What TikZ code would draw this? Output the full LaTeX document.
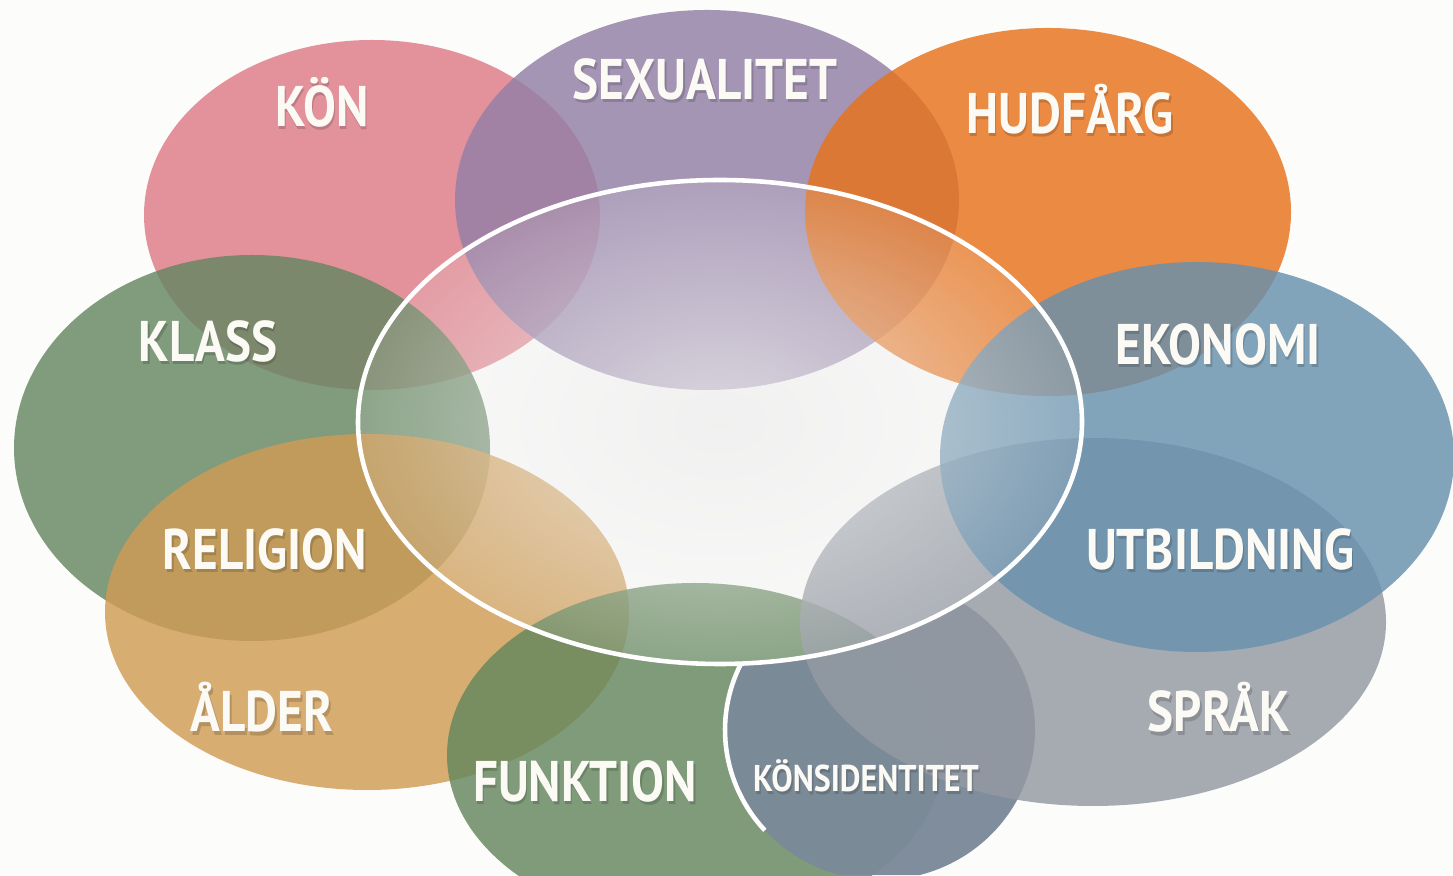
\documentclass[tikz,border=0pt]{standalone}
\usepackage{fontspec}
\setmainfont{PT Sans}
\newfontfamily\tagfont[FakeStretch=0.86]{PT Sans}
\usetikzlibrary{positioning,shapes,fadings}
\newcommand*{\tagsize}{\tagfont\bfseries\fontsize{16.3}{18}\selectfont}
\newcommand*{\smalltagsize}{\tagfont\bfseries\fontsize{10.6}{12}\selectfont}
\definecolor{paper}{HTML}{FCFCFB}
\definecolor{tagwhite}{HTML}{FCFAF5}
\definecolor{konpink}{HTML}{DE7B87}
\definecolor{sexpurple}{HTML}{937FA6}
\definecolor{hudorange}{HTML}{E8721A}
\definecolor{ekoblue}{HTML}{6891AE}
\definecolor{klassgreen}{HTML}{668662}
\definecolor{aldertan}{HTML}{D09C55}
\definecolor{sprakgray}{HTML}{949AA2}
\definecolor{funkgreen}{HTML}{64865D}
\definecolor{konsidslate}{HTML}{7B8A99}
\tikzfading[name=hazefade, inner color=transparent!25, outer color=transparent!88]

\begin{document}
\begin{tikzpicture}
	\tikzstyle{blob}=[ellipse, inner sep=0pt, outer sep=0pt, fill opacity=0.82]
	\tikzstyle{tag}=[anchor=base, text=tagwhite, font=\tagsize]
	\tikzstyle{tagshadow}=[anchor=base, text=black, text opacity=0.16, font=\tagsize, xshift=0.15mm, yshift=-0.3mm]
	\tikzstyle{rim}=[draw=white, line width=1.3pt]
	\useasboundingbox[fill=paper] (0,0) rectangle (14.53,8.75);
	\coordinate (Mid) at (7.20,4.53);

	\node (Kon) [blob, fill=konpink, minimum width=4.56cm, minimum height=3.50cm] at (3.72,6.60) {};
	\node (Klass) [blob, fill=klassgreen, minimum width=4.76cm, minimum height=3.86cm] at (2.52,4.27) {};
	\node (Alder) [blob, fill=aldertan, minimum width=5.24cm, minimum height=3.56cm] at (3.67,2.63) {};
	\node (Sexualitet) [blob, fill=sexpurple, minimum width=5.04cm, minimum height=3.80cm] at (7.07,6.75) {};
	\node (Hudfarg) [blob, fill=hudorange, minimum width=4.86cm, minimum height=3.68cm] at (10.48,6.63) {};
	\node (Funktion) [blob, fill=funkgreen, minimum width=4.96cm, minimum height=3.44cm] at (6.95,1.20) {};
	\begin{scope}[even odd rule]
		\clip (0,0) rectangle (14.53,8.75) (Mid) ellipse [x radius=3.62, y radius=2.42];
		\node (Konsid) [blob, fill=konsidslate, fill opacity=0.97, minimum width=3.10cm, minimum height=3.00cm] at (8.80,1.45) {};
	\end{scope}
	\node (Sprak) [blob, fill=sprakgray, minimum width=5.86cm, minimum height=3.68cm] at (10.93,2.53) {};
	\node (Ekonomi) [blob, fill=ekoblue, minimum width=5.14cm, minimum height=3.90cm] at (11.97,4.18) {};

	\fill[black!7, path fading=hazefade] (Mid) ellipse [x radius=3.62, y radius=2.42];
	\node (Ring) [ellipse, rim, inner sep=0pt, minimum width=7.24cm, minimum height=4.84cm] at (Mid) {};
	\draw[rim] ([shift={(154:1.55 and 1.50)}]Konsid.center) arc[start angle=154, end angle=222, x radius=1.55, y radius=1.50];

	\node[tagshadow] at (3.22,7.48) {KÖN};
	\node (KonText) [tag] at (3.22,7.48) {KÖN};
	\node[tagshadow] at (7.05,7.75) {SEXUALITET};
	\node (SexualitetText) [tag] at (7.05,7.75) {SEXUALITET};
	\node[tagshadow] at (10.70,7.41) {HUDFÅRG};
	\node (HudfargText) [tag] at (10.70,7.41) {HUDFÅRG};
	\node[tagshadow] at (2.08,5.13) {KLASS};
	\node (KlassText) [tag] at (2.08,5.13) {KLASS};
	\node[tagshadow] at (12.18,5.10) {EKONOMI};
	\node (EkonomiText) [tag] at (12.18,5.10) {EKONOMI};
	\node[tagshadow] at (2.65,3.05) {RELIGION};
	\node (Religion) [tag] at (2.65,3.05) {RELIGION};
	\node[tagshadow] at (12.20,3.05) {UTBILDNING};
	\node (Utbildning) [tag] at (12.20,3.05) {UTBILDNING};
	\node[tagshadow] at (2.62,1.43) {ÅLDER};
	\node (AlderText) [tag] at (2.62,1.43) {ÅLDER};
	\node[tagshadow] at (12.19,1.43) {SPRÅK};
	\node (SprakText) [tag] at (12.19,1.43) {SPRÅK};
	\node[tagshadow] at (5.85,0.74) {FUNKTION};
	\node (FunktionText) [tag] at (5.85,0.74) {FUNKTION};
	\node[tagshadow, font=\smalltagsize] at (8.66,0.84) {KÖNSIDENTITET};
	\node (KonsidText) [tag, font=\smalltagsize] at (8.66,0.84) {KÖNSIDENTITET};
\end{tikzpicture}
\end{document}
